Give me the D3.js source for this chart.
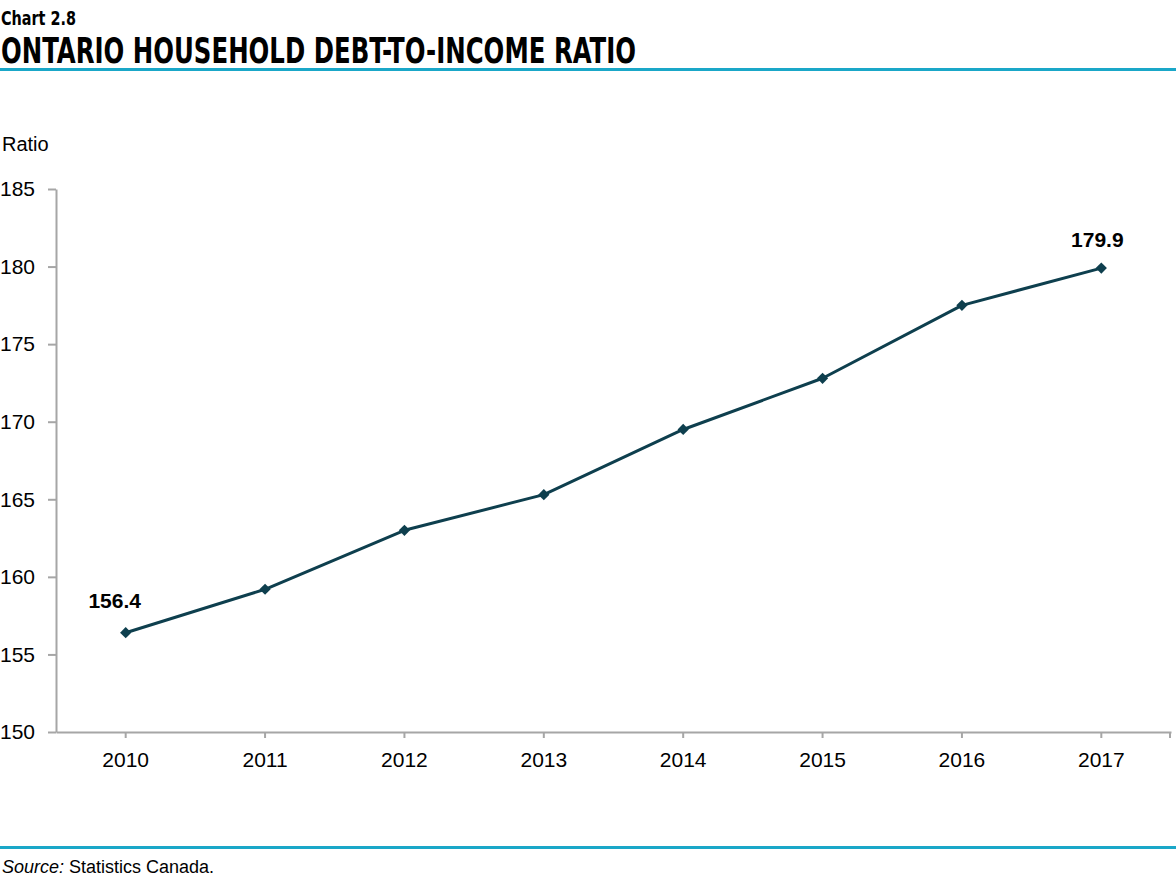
<!DOCTYPE html>
<html lang="en">

<head>
    <meta charset="UTF-8" />
    <title>Chart 2.8</title>
    <script src="https://d3js.org/d3.v7.min.js"></script>
    <style>
        body {
            margin: 0;
            background: #fff;
        }

        .axis .domain,
        .axis line {
            stroke: #a6a6a6;
            stroke-width: 2;
        }

        .axis text {
            font-family: "Liberation Sans", Arial, sans-serif;
            font-size: 21px;
            fill: #000;
        }

        .title {
            font-family: "Liberation Sans Narrow", "DejaVu Sans Condensed", "Liberation Sans", sans-serif;
            font-weight: bold;
            fill: #000;
        }
    </style>
</head>

<body>
    <svg id="chart" width="1176" height="888"></svg>
    <script>
        const years = ["2010", "2011", "2012", "2013", "2014", "2015", "2016", "2017"];
        const ratios = [156.4, 159.2, 163.0, 165.3, 169.5, 172.8, 177.5, 179.9];
        const yTicks = [150, 155, 160, 165, 170, 175, 180, 185];
        const labelled = ["2010", "2017"];

        {
            const svg = d3.select("svg#chart");
            const svgWidth = +svg.attr("width");

            const margins = { top: 189, right: 5, bottom: 156, left: 56 };
            const chartBottom = 888 - margins.bottom;

            const data = years.map((y, i) => ({ year: y, value: ratios[i] }));

            // header
            svg.append("text")
                .attr("class", "title")
                .attr("x", 1)
                .attr("y", 25)
                .attr("font-size", 20)
                .attr("textLength", 75)
                .attr("lengthAdjust", "spacingAndGlyphs")
                .text("Chart 2.8");

            svg.append("text")
                .attr("class", "title")
                .attr("x", 1)
                .attr("y", 63)
                .attr("font-size", 35)
                .attr("textLength", 635)
                .attr("lengthAdjust", "spacingAndGlyphs")
                .text("ONTARIO HOUSEHOLD DEBT-TO-INCOME RATIO");

            svg.append("rect")
                .attr("x", 0).attr("y", 68)
                .attr("width", svgWidth).attr("height", 3)
                .attr("fill", "#1aa7c8");

            // footer
            svg.append("rect")
                .attr("x", 0).attr("y", 846)
                .attr("width", svgWidth).attr("height", 3)
                .attr("fill", "#1aa7c8");

            const source = svg.append("text")
                .attr("x", 2)
                .attr("y", 873)
                .attr("font-family", "'Liberation Sans', Arial, sans-serif")
                .attr("font-size", 18);
            source.append("tspan").attr("font-style", "italic").text("Source:");
            source.append("tspan").text(" Statistics Canada.");

            // axis title
            svg.append("text")
                .attr("x", 2)
                .attr("y", 151)
                .attr("font-family", "'Liberation Sans', Arial, sans-serif")
                .attr("font-size", 20)
                .text("Ratio");

            const xScale = d3.scaleBand()
                .domain(years)
                .range([margins.left, svgWidth - margins.right])
                .padding(0);

            const yScale = d3.scaleLinear()
                .domain([150, 185])
                .range([chartBottom, margins.top]);

            const leftAxis = d3.axisLeft(yScale)
                .tickValues(yTicks)
                .tickSizeInner(8)
                .tickSizeOuter(0)
                .tickPadding(13);

            svg.append("g")
                .attr("class", "y axis")
                .attr("transform", `translate(${margins.left},0)`)
                .call(leftAxis);

            const bottomAxis = d3.axisBottom(xScale)
                .tickSizeInner(6)
                .tickSizeOuter(0)
                .tickPadding(14);

            const xAxisG = svg.append("g")
                .attr("class", "x axis")
                .attr("transform", `translate(0,${chartBottom})`)
                .call(bottomAxis);

            // closing tick at the right end of the category axis
            xAxisG.append("line")
                .attr("x1", xScale.range()[1] - 1)
                .attr("x2", xScale.range()[1] - 1)
                .attr("y1", 0)
                .attr("y2", 6);

            const cx = (d) => xScale(d.year) + xScale.bandwidth() / 2;

            const line = d3.line()
                .x(cx)
                .y((d) => yScale(d.value));

            svg.append("path")
                .datum(data)
                .attr("fill", "none")
                .attr("stroke", "#0e3f4e")
                .attr("stroke-width", 3)
                .attr("stroke-linejoin", "round")
                .attr("d", line);

            svg.selectAll("path.marker")
                .data(data)
                .join("path")
                .attr("class", "marker")
                .attr("d", d3.symbol(d3.symbolDiamond2, 80))
                .attr("transform", (d) => `translate(${cx(d)},${yScale(d.value)})`)
                .attr("fill", "#0e3f4e");

            svg.selectAll("text.value")
                .data(data.filter((d) => labelled.includes(d.year)))
                .join("text")
                .attr("class", "value")
                .attr("x", (d) => cx(d) + (d.year === "2010" ? -11 : -4))
                .attr("y", (d) => yScale(d.value) - (d.year === "2010" ? 25 : 21))
                .attr("text-anchor", "middle")
                .attr("font-family", "'Liberation Sans', Arial, sans-serif")
                .attr("font-weight", "bold")
                .attr("font-size", 21)
                .text((d) => d.value.toFixed(1));
        }
    </script>
</body>

</html>
